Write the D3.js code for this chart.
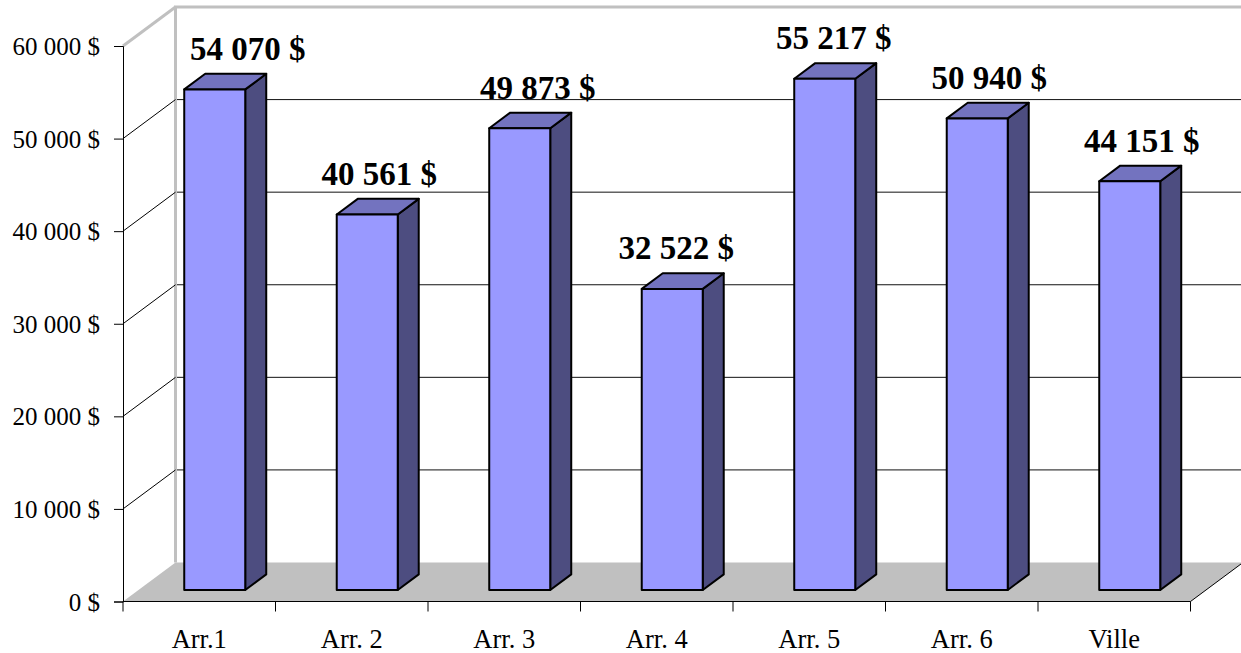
<!DOCTYPE html>
<html>
<head>
<meta charset="utf-8">
<script src="https://cdn.jsdelivr.net/npm/d3@7"></script>
<style>
  body { margin: 0; background: #fff; }
  svg { display: block; }
</style>
</head>
<body>
<svg id="chart" width="1241" height="653"></svg>
<script>
// data
const categories = ['Arr.1', 'Arr. 2', 'Arr. 3', 'Arr. 4', 'Arr. 5', 'Arr. 6', 'Ville'];
const values = [54070, 40561, 49873, 32522, 55217, 50940, 44151];
const yTicks = [0, 10000, 20000, 30000, 40000, 50000, 60000];

// label nudges (labels were dragged a bit in the original)
const labelNudge = [21, 0, 6, -8, -3, 0, 0];

const svg = d3.select('#chart');

// 3d depth offset of the walls
const DX = 52.5, DY = 39;
const f0 = 0.295, f1 = 0.695;   // bar front / back depth

const x = d3.scaleBand().domain(categories).range([123, 1190.5]).padding(0);
const y = d3.scaleLinear().domain([0, 60000]).range([601.5, 46]);

const loc = d3.formatLocale({ decimal: ',', thousands: '\u00a0', grouping: [3], currency: ['', '\u00a0$'] });
const fmt = loc.format('$,.0f');

// project a point (x, value, depth) to screen
const P = (px, v, f) => [px + f * DX, y(v) - f * DY];
const poly = pts => 'M' + pts.map(p => p.join(',')).join('L') + 'Z';

// back wall
const x0 = 123, x1 = 1190.5;
svg.append('path')
  .attr('d', poly([P(x0, 0, 1), P(x1 + 200, 0, 1), P(x1 + 200, 60000, 1), P(x0, 60000, 1)]))
  .attr('fill', '#fff');

// gridlines on back wall
svg.append('g').selectAll('line')
  .data(yTicks.filter(t => t > 0 && t < 60000))
  .join('line')
  .attr('x1', P(x0, 0, 1)[0]).attr('x2', 1241)
  .attr('y1', d => P(x0, d, 1)[1]).attr('y2', d => P(x0, d, 1)[1])
  .attr('stroke', '#111').attr('stroke-width', 1);

// floor
svg.append('path')
  .attr('d', poly([P(x0, 0, 0), P(x1, 0, 0), P(x1, 0, 1), P(x0, 0, 1)]))
  .attr('fill', '#c0c0c0');
svg.append('line')
  .attr('x1', P(x1, 0, 0)[0]).attr('y1', P(x1, 0, 0)[1])
  .attr('x2', P(x1, 0, 1)[0]).attr('y2', P(x1, 0, 1)[1])
  .attr('stroke', '#000').attr('stroke-width', 1);

// wall borders
svg.append('path')
  .attr('d', 'M' + [P(x0, 0, 1), P(x0, 60000, 1), P(1300, 60000, 1)].map(p => p.join(',')).join('L'))
  .attr('fill', 'none').attr('stroke', '#c0c0c0').attr('stroke-width', 3);
svg.append('line')
  .attr('x1', P(x0, 60000, 0)[0]).attr('y1', P(x0, 60000, 0)[1])
  .attr('x2', P(x0, 60000, 1)[0]).attr('y2', P(x0, 60000, 1)[1])
  .attr('stroke', '#c0c0c0').attr('stroke-width', 3);

// side wall diagonals
svg.append('g').selectAll('line')
  .data(yTicks.filter(t => t > 0 && t < 60000))
  .join('line')
  .attr('x1', d => P(x0, d, 0)[0]).attr('y1', d => P(x0, d, 0)[1])
  .attr('x2', d => P(x0, d, 1)[0]).attr('y2', d => P(x0, d, 1)[1])
  .attr('stroke', '#000').attr('stroke-width', 1);

// y axis
const yAxis = svg.append('g')
  .attr('transform', `translate(${x0},0)`)
  .call(d3.axisLeft(y).tickValues(yTicks).tickFormat(fmt).tickSize(9).tickPadding(14));
yAxis.select('.domain').attr('stroke', '#000');
yAxis.selectAll('.tick line').attr('stroke', '#000');
yAxis.selectAll('text')
  .attr('font-family', '"Liberation Serif", "Times New Roman", serif')
  .attr('font-size', 25).attr('fill', '#000').attr('dy', '0.34em');

// x axis
const xAxis = svg.append('g').attr('transform', `translate(0,${y(0)})`);
xAxis.append('line').attr('x1', x0).attr('x2', x1).attr('stroke', '#000');
xAxis.selectAll('.tk')
  .data(categories.map(c => x(c)).concat([x1]))
  .join('line')
  .attr('x1', d => d).attr('x2', d => d)
  .attr('y1', 0).attr('y2', 10)
  .attr('stroke', '#000');
xAxis.selectAll('text')
  .data(categories)
  .join('text')
  .attr('x', d => x(d) + x.bandwidth() / 2)
  .attr('y', 46)
  .attr('text-anchor', 'middle')
  .attr('font-family', '"Liberation Serif", "Times New Roman", serif')
  .attr('font-size', 26.5)
  .text(d => d);

// bars
const barW = 61;
const bars = svg.append('g').selectAll('g')
  .data(categories.map((c, i) => ({ c, v: values[i], i })))
  .join('g');

bars.each(function (d) {
  const g = d3.select(this);
  const xl = x(d.c) + (x.bandwidth() - barW) / 2, xr = xl + barW;
  const style = s => s.attr('stroke', '#000').attr('stroke-width', 2).attr('stroke-linejoin', 'round');
  g.append('path')
    .attr('d', poly([P(xr, 0, f0), P(xr, 0, f1), P(xr, d.v, f1), P(xr, d.v, f0)]))
    .attr('fill', '#4d4d80').call(style);
  g.append('path')
    .attr('d', poly([P(xl, d.v, f0), P(xr, d.v, f0), P(xr, d.v, f1), P(xl, d.v, f1)]))
    .attr('fill', '#7373bf').call(style);
  g.append('path')
    .attr('d', poly([P(xl, 0, f0), P(xr, 0, f0), P(xr, d.v, f0), P(xl, d.v, f0)]))
    .attr('fill', '#9999ff').call(style);
  g.append('text')
    .attr('x', xl + barW / 2 + 27.5 + labelNudge[d.i])
    .attr('y', P(xl, d.v, f1)[1] - 14)
    .attr('text-anchor', 'middle')
    .attr('font-family', '"Liberation Serif", "Times New Roman", serif')
    .attr('font-weight', 'bold')
    .attr('font-size', 33)
    .text(fmt(d.v));
});
</script>
</body>
</html>
